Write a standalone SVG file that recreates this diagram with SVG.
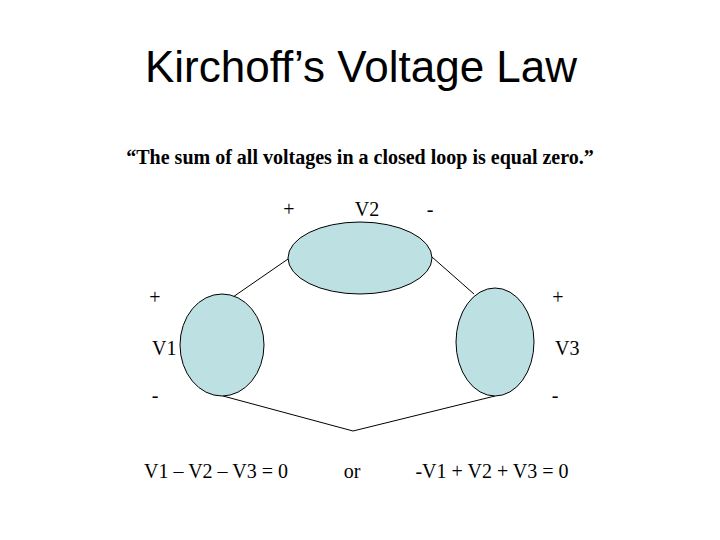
<svg xmlns="http://www.w3.org/2000/svg" width="720" height="540" viewBox="0 0 720 540">
<style>
.t{font-family:"Liberation Serif",serif;font-size:20px;fill:#000}
.e{fill:#bde0e3;stroke:#000;stroke-width:1}
.c{fill:none;stroke:#000;stroke-width:1}
</style>
<rect width="720" height="540" fill="#fff"/>
<text x="361" y="82" text-anchor="middle" font-family="Liberation Sans, sans-serif" font-size="44">Kirchoff’s Voltage Law</text>
<text class="t" x="360" y="164" text-anchor="middle" style="font-size:20px;font-weight:bold">“The sum of all voltages in a closed loop is equal zero.”</text>
<g id="connectors">
<path class="c" d="M288,259 L233,297"/>
<path class="c" d="M432,257 L474,294"/>
<path class="c" d="M223,396 L353,431 L495,396"/>
</g>
<g id="V2"><ellipse class="e" cx="360" cy="258" rx="72" ry="36"/>
<text class="t" x="289" y="216" text-anchor="middle">+</text>
<text class="t" x="367" y="216" text-anchor="middle">V2</text>
<text class="t" x="430" y="216" text-anchor="middle">-</text></g>
<g id="V1"><ellipse class="e" cx="222" cy="345" rx="42" ry="51"/>
<text class="t" x="155" y="304" text-anchor="middle">+</text>
<text class="t" x="152" y="355">V1</text>
<text class="t" x="155" y="402" text-anchor="middle">-</text></g>
<g id="V3"><ellipse class="e" cx="495" cy="342" rx="39" ry="54"/>
<text class="t" x="558" y="304" text-anchor="middle">+</text>
<text class="t" x="555" y="355">V3</text>
<text class="t" x="555" y="402" text-anchor="middle">-</text></g>
<text class="t" x="216" y="478" text-anchor="middle">V1 – V2 – V3 = 0</text>
<text class="t" x="352" y="478" text-anchor="middle">or</text>
<text class="t" x="492" y="478" text-anchor="middle">-V1 + V2 + V3 = 0</text>
</svg>
